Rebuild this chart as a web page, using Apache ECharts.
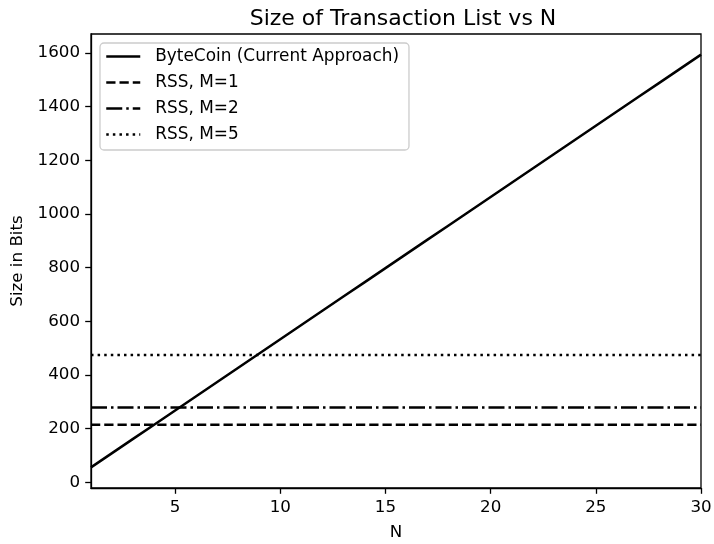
<!DOCTYPE html>
<html>
<head>
<meta charset="utf-8">
<title>Size of Transaction List vs N</title>
<script src="https://cdn.jsdelivr.net/npm/echarts@6/dist/echarts.min.js"></script>
<style>
  html, body { margin: 0; padding: 0; background: #ffffff; }
  #chart { width: 714px; height: 544px; }
</style>
</head>
<body>
<div id="chart"></div>
<script>
// Number of transactions N
const nValues = [1, 2, 3, 4, 5, 6, 7, 8, 9, 10, 11, 12, 13, 14, 15,
                 16, 17, 18, 19, 20, 21, 22, 23, 24, 25, 26, 27, 28, 29, 30];

// Transaction list size in bits for the current ByteCoin approach
const byteCoinBits = [56, 109, 162, 215, 268, 321, 374, 427, 480, 533,
                      586, 639, 692, 745, 798, 851, 904, 957, 1010, 1063,
                      1116, 1169, 1222, 1275, 1328, 1381, 1434, 1487, 1540, 1593];

// RSS sizes (constant in N) for each M
const rssLabels = ['RSS, M=1', 'RSS, M=2', 'RSS, M=5'];
const rssBits = [215, 279, 474];

// Axis ticks
const xTicks = [5, 10, 15, 20, 25, 30];
const yTicks = [0, 200, 400, 600, 800, 1000, 1200, 1400, 1600];

const seriesNames = ['ByteCoin (Current Approach)'].concat(rssLabels);
const dashTypes = ['solid', [9.25, 4], [16, 4, 2.5, 4], [2.5, 4.1]];

const FONT = 'DejaVu Sans';
const LW = 2.5;

// y limits with a 5% margin around the data range
const allY = byteCoinBits.concat(rssBits);
const yLo = Math.min.apply(null, allY);
const yHi = Math.max.apply(null, allY);
const yPad = (yHi - yLo) * 0.05;

const series = [];
series.push({
  name: seriesNames[0],
  type: 'line',
  data: nValues.map((n, i) => [n, byteCoinBits[i]]),
  showSymbol: false,
  symbol: 'none',
  lineStyle: { color: '#000000', width: LW, type: dashTypes[0] },
  itemStyle: { color: '#000000' },
  animation: false
});
rssBits.forEach((v, k) => {
  series.push({
    name: rssLabels[k],
    type: 'line',
    data: [[nValues[0], v], [nValues[nValues.length - 1], v]],
    showSymbol: false,
    symbol: 'none',
    lineStyle: { color: '#000000', width: LW, type: dashTypes[k + 1], cap: 'butt' },
    itemStyle: { color: '#000000' },
    animation: false
  });
});

const chart = echarts.init(document.getElementById('chart'), null, { renderer: 'canvas' });
chart.setOption({
  backgroundColor: '#ffffff',
  animation: false,
  textStyle: { fontFamily: FONT, color: '#000000' },
  title: {
    text: 'Size of Transaction List vs N',
    left: 398,
    top: 3,
    textAlign: 'center',
    textStyle: { fontFamily: FONT, fontSize: 22, fontWeight: 'normal', color: '#000000' }
  },
  legend: {
    orient: 'vertical',
    left: 100,
    top: 43,
    padding: [5, 10, 7, 5],
    itemWidth: 34,
    itemHeight: 17,
    itemGap: 9,
    backgroundColor: 'rgba(255,255,255,0.8)',
    borderColor: '#cccccc',
    borderWidth: 1.3,
    borderRadius: 4,
    data: seriesNames,
    itemStyle: { opacity: 0, borderWidth: 0 },
    lineStyle: { width: LW, color: '#000000' },
    textStyle: { fontFamily: FONT, fontSize: 16.9, color: '#000000', padding: [0, 0, 0, 10] }
  },
  grid: {
    left: 91,
    right: 13,
    top: 34,
    bottom: 56,
    containLabel: false,
    outerBoundsMode: 'none',
    show: true,
    borderColor: '#000000',
    borderWidth: 1.3,
    backgroundColor: 'transparent'
  },
  xAxis: {
    type: 'value',
    min: nValues[0],
    max: nValues[nValues.length - 1],
    name: 'N',
    nameLocation: 'middle',
    nameGap: 36,
    nameTextStyle: { fontFamily: FONT, fontSize: 16.7, color: '#000000' },
    axisLine: { show: true, onZero: false, lineStyle: { color: '#000000', width: 1.3 } },
    axisTick: { show: true, length: 5.8, inside: false, customValues: xTicks, lineStyle: { color: '#000000', width: 1.3 } },
    axisLabel: { show: true, margin: 11, customValues: xTicks, fontFamily: FONT, fontSize: 16.7, color: '#000000',
                 formatter: v => String(v) },
    splitLine: { show: false }
  },
  yAxis: {
    type: 'value',
    min: yLo - yPad,
    max: yHi + yPad,
    name: 'Size in Bits',
    nameLocation: 'middle',
    nameGap: 54,
    nameTextStyle: { fontFamily: FONT, fontSize: 16.7, color: '#000000' },
    axisLine: { show: true, onZero: false, lineStyle: { color: '#000000', width: 1.3 } },
    axisTick: { show: true, length: 5.8, inside: false, customValues: yTicks, lineStyle: { color: '#000000', width: 1.3 } },
    axisLabel: { show: true, margin: 11, customValues: yTicks, fontFamily: FONT, fontSize: 16.7, color: '#000000',
                 formatter: v => String(v) },
    splitLine: { show: false }
  },
  series: series
});
</script>
</body>
</html>
